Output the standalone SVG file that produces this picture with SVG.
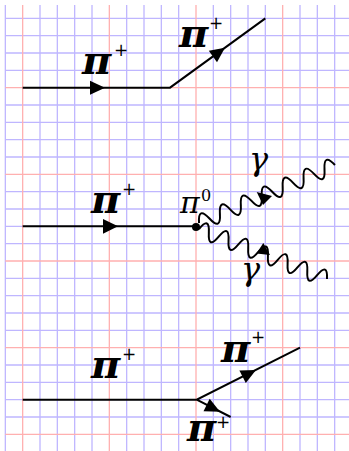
<svg xmlns="http://www.w3.org/2000/svg" width="349" height="451" viewBox="0 0 349 451">
<style>
.gb{stroke:#bfb6ff;stroke-width:1.3;fill:none}
.gr{stroke:#ffb0b0;stroke-width:1.3;fill:none}
.ln{stroke:#000;stroke-width:2;fill:none}
.ph{stroke:#000;stroke-width:2;fill:none}
.ah{fill:#000}
.pi{font-family:"DejaVu Serif",serif;font-style:italic;font-weight:bold;font-size:40px;fill:#000}
.sup{font-family:"DejaVu Sans",sans-serif;font-size:17px;fill:#000}
.pi0{font-family:"DejaVu Serif",serif;font-style:italic;font-size:30px;fill:#000}
.zero{font-family:"DejaVu Serif",serif;font-size:16px;fill:#000}
.gam{font-family:"DejaVu Serif",serif;font-style:italic;font-size:32px;fill:#000}
</style>
<rect width="349" height="451" fill="#fff"/>
<g id="grid">
<path class="gb" d="M5.33 5V451M40 5V451M57.33 5V451M74.67 5V451M92 5V451M126.67 5V451M144 5V451M161.33 5V451M178.67 5V451M213.33 5V451M230.67 5V451M248 5V451M265.33 5V451M300 5V451M317.33 5V451M334.67 5V451"/>
<path class="gb" d="M5.33 18.33H349M5.33 35.67H349M5.33 53H349M5.33 70.33H349M5.33 105H349M5.33 122.33H349M5.33 139.67H349M5.33 157H349M5.33 191.67H349M5.33 209H349M5.33 226.33H349M5.33 243.67H349M5.33 278.33H349M5.33 295.67H349M5.33 313H349M5.33 330.33H349M5.33 365H349M5.33 382.33H349M5.33 399.67H349M5.33 417H349"/>
<path class="gr" d="M22.67 5V451M109.33 5V451M196 5V451M282.67 5V451"/>
<path class="gr" d="M5.33 87.67H349M5.33 174.33H349M5.33 261H349M5.33 347.67H349M5.33 434.33H349"/>
</g>
<g id="connectors">
<path class="ln" d="M22.67 87.67H170L265.33 18.33"/>
<polygon class="ah" points="90,80.7 105,87.67 90,94.7"/>
<polygon class="ah" points="225,47.7 208.8,50.8 217,62.2"/>
<path class="ln" d="M22.67 226.33H196"/>
<polygon class="ah" points="103,219 118,226.33 103,233.7"/>
<path class="ph" transform="translate(199,223) rotate(-23.1)" d="M0 0c3.79 -10.67 7.58 -10.67 11.37 0s7.58 10.67 11.37 0s7.58 -10.67 11.37 0s7.58 10.67 11.37 0s7.58 -10.67 11.37 0s7.58 10.67 11.37 0s7.58 -10.67 11.37 0s7.58 10.67 11.37 0s7.58 -10.67 11.37 0s7.58 10.67 11.37 0s7.58 -10.67 11.37 0s7.58 10.67 11.37 0s7.58 -10.67 11.37 0"/>
<polygon class="ah" points="256.7,192 272,196 263,205"/>
<path class="ph" transform="translate(199,229) rotate(21.34)" d="M0 0c3.52 -10.67 7.05 -10.67 10.57 0s7.05 10.67 10.57 0s7.05 -10.67 10.57 0s7.05 10.67 10.57 0s7.05 -10.67 10.57 0s7.05 10.67 10.57 0s7.05 -10.67 10.57 0s7.05 10.67 10.57 0s7.05 -10.67 10.57 0s7.05 10.67 10.57 0s7.05 -10.67 10.57 0s7.05 10.67 10.57 0s7.05 -10.67 10.57 0"/>
<polygon class="ah" points="263.3,243 256.5,253.5 270,255"/>
<path class="ln" d="M22.67 399.67H196.7L300 347.67M196.7 399.67L230.67 417"/>
<polygon class="ah" points="256,370 239.4,370.6 245.8,383"/>
<polygon class="ah" points="220,411.7 209.7,398.7 203.5,411.3"/>
</g>
<g id="vertex">
<circle cx="196" cy="227" r="4" fill="#000"/>
</g>
<g id="labels">
<text class="pi" x="82" y="74">π</text><text class="sup" x="114" y="56">+</text>
<text class="pi" x="179" y="47">π</text><text class="sup" x="209" y="29">+</text>
<text class="pi" x="91" y="213">π</text><text class="sup" x="122" y="195">+</text>
<text class="pi0" x="180" y="213">π</text><text class="zero" x="201" y="201">0</text>
<text class="gam" x="249" y="170">γ</text>
<text class="gam" x="241" y="280">γ</text>
<text class="pi" x="91" y="378">π</text><text class="sup" x="122" y="360">+</text>
<text class="pi" x="221" y="362">π</text><text class="sup" x="251" y="343">+</text>
<text class="pi" x="187" y="441">π</text><text class="sup" x="216" y="428">+</text>
</g>
</svg>
